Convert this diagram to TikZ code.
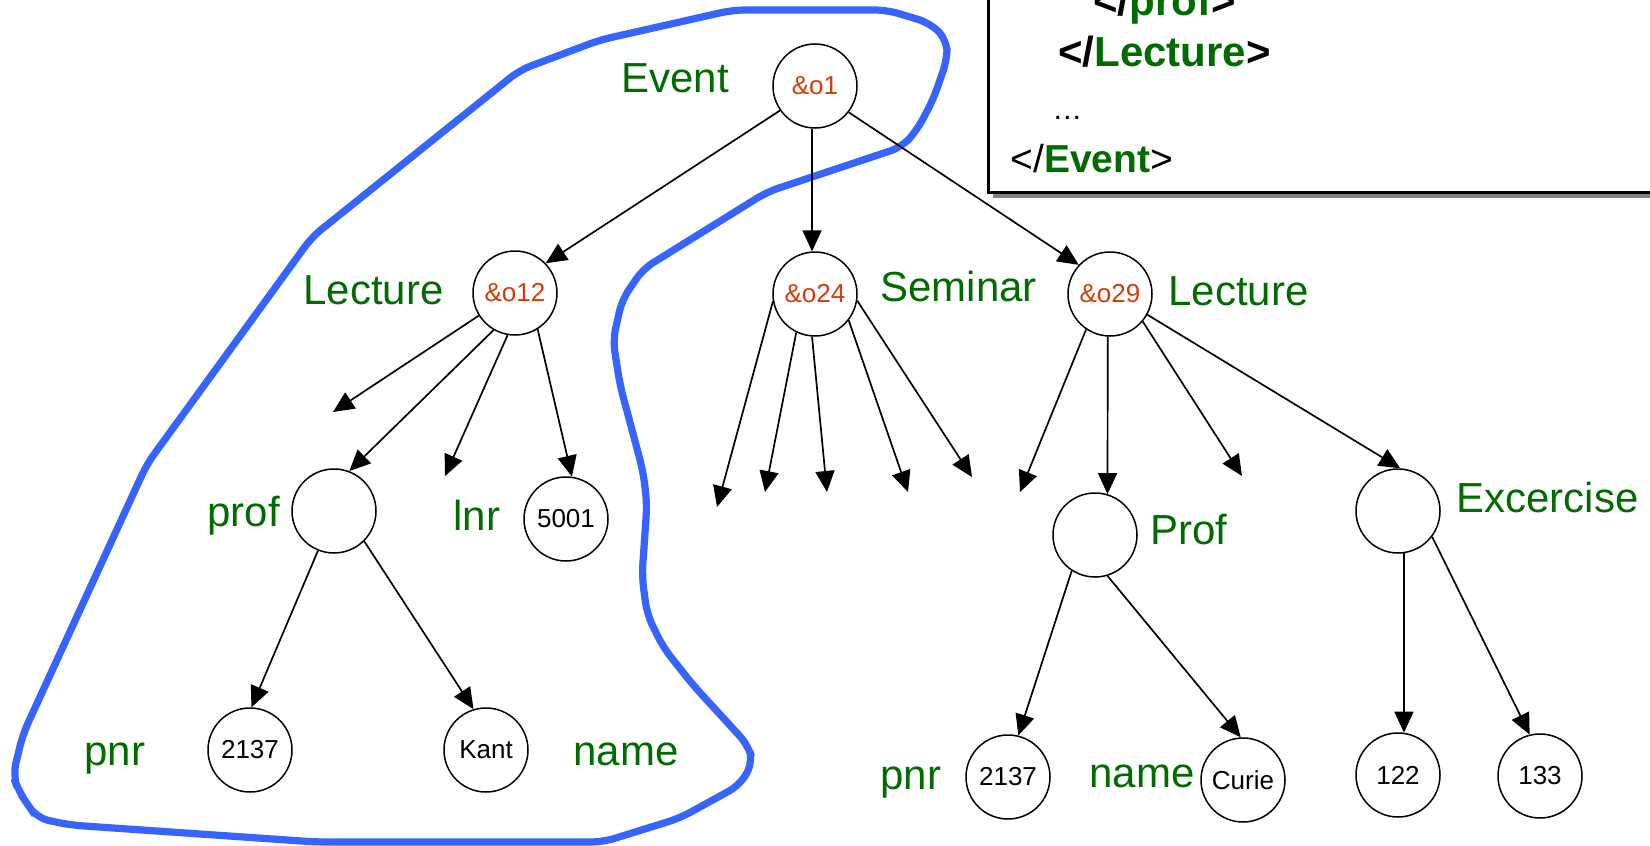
\documentclass[tikz,border=0pt]{standalone}
\usepackage{fontspec}
\setmainfont{Liberation Sans}
\usetikzlibrary{arrows.meta}
\definecolor{lblgreen}{RGB}{0,108,0}
\definecolor{idred}{RGB}{210,60,10}
\definecolor{hlblue}{RGB}{55,100,255}
\definecolor{shadowgray}{RGB}{130,130,130}
\begin{document}
\begin{tikzpicture}[x=0.5pt,y=-0.5pt,
  obj/.style={circle,draw,line width=0.75pt,minimum size=42pt,inner sep=0pt,font=\fontsize{13}{15}\selectfont},
  oid/.style={obj,text=idred},
  lbl/.style={anchor=base west,inner sep=0pt,text=lblgreen,font=\fontsize{21}{24}\selectfont},
  edge/.style={line width=0.85pt,-{Triangle[length=10.5pt,width=9.5pt]}},
  hull/.style={draw=hlblue,line width=3.6pt,rounded corners=6pt},
  xml/.style={anchor=base west,inner sep=0pt,font=\fontsize{21}{24}\selectfont\bfseries}
]
\useasboundingbox (0,0) rectangle (1650,846);
\clip (0,0) rectangle (1650,846);

% highlighted region
\draw[hull] (733,10) -- (887,10) -- (930,23) -- (947,40) -- (947,60) -- (933,100) -- (917,130) -- (902,147)
  -- (767,192) -- (643,269) -- (622,300) -- (613,340) -- (620,385) -- (643,471) -- (647,504)
  -- (642,576) -- (647,614) -- (663,647) -- (693,685) -- (748,745) -- (753,762) -- (740,785)
  -- (680,818) -- (603,842) -- (316,842) -- (70,825) -- (37,818) -- (28,805) -- (18,790) -- (13,775)
  -- (23,734) -- (147,464) -- (312,237) -- (520,70) -- (600,40) -- cycle;

% XML box
\fill[shadowgray] (993,-20) rectangle (1700,198);
\draw[line width=1.5pt,fill=white] (988,-20) rectangle (1700,192);
\node[xml] (x1) at (1093,15) {</\textcolor{lblgreen}{prof}>};
\node[xml] (x2) at (1058,66) {</\textcolor{lblgreen}{Lecture}>};
\node[anchor=base west,inner sep=0pt,font=\fontsize{15}{17}\selectfont] (x3) at (1052,119) {…};
\node[anchor=base west,inner sep=0pt,font=\fontsize{19.5}{22}\selectfont] (x4) at (1010,172) {</\textcolor{lblgreen}{\bfseries Event}>};

% nodes
\node[oid] (o1) at (815,86) {\&o1};
\node[oid] (o12) at (515,293) {\&o12};
\node[oid] (o24) at (815,294) {\&o24};
\node[oid] (o29) at (1110,294) {\&o29};
\node[obj] (profL) at (334,511) {};
\node[obj] (n5001) at (566,519) {5001};
\node[obj] (l2137) at (250,750) {2137};
\node[obj] (kant) at (486,750) {Kant};
\node[obj] (profR) at (1095,535) {};
\node[obj] (exc) at (1398,511) {};
\node[obj] (r2137) at (1008,777) {2137};
\node[obj] (curie) at (1243,780) {Curie};
\node[obj] (n122) at (1398,775) {122};
\node[obj] (n133) at (1540,776) {133};

% labels
\node[lbl] (tEvent) at (621,92) {Event};
\node[lbl] (tLecL) at (303,304) {Lecture};
\node[lbl] (tSem) at (880,301) {Seminar};
\node[lbl] (tLecR) at (1168,305) {Lecture};
\node[lbl] (tprof) at (207,526) {prof};
\node[lbl] (tlnr) at (453,530) {lnr};
\node[lbl] (tProf) at (1150,544) {Prof};
\node[lbl] (tExc) at (1456,512) {Excercise};
\node[lbl] (tpnrL) at (84,765) {pnr};
\node[lbl] (tnameL) at (573,765) {name};
\node[lbl] (tpnrR) at (880,789) {pnr};
\node[lbl] (tnameR) at (1089,787) {name};

% free arrow ends
\coordinate (a1) at (333,412);
\coordinate (a2) at (445,476);
\coordinate (b1) at (717,507);
\coordinate (b2) at (765,492);
\coordinate (b3) at (827,492);
\coordinate (b4) at (908,492);
\coordinate (b5) at (972,477);
\coordinate (c1) at (1020,492);
\coordinate (c2) at (1242,476);

% edges
\draw[edge] (o1.215) -- (o12.44);
\draw[edge] (o1.266) -- (o24.94);
\draw[edge] (o1.322) -- (o29.137);

\draw[edge] (o12.212) -- (a1);
\draw[edge] (o12.240) -- (profL.69);
\draw[edge] (o12.260) -- (a2);
\draw[edge] (o12.302) -- (n5001.82);

\draw[edge] (o24.190) -- (b1);
\draw[edge] (o24.244) -- (b2);
\draw[edge] (o24.266) -- (b3);
\draw[edge] (o24.322) -- (b4);
\draw[edge] (o24.351) -- (b5);

\draw[edge] (o29.236) -- (c1);
\draw[edge] (o29.267) -- (profR.73);
\draw[edge] (o29.320) -- (c2);
\draw[edge] (o29.331) -- (exc.87);

\draw[edge] (profL.248) -- (l2137.88);
\draw[edge] (profL.315) -- (kant.107);

\draw[edge] (profR.237) -- (r2137.76);
\draw[edge] (profR.287) -- (curie.93);

\draw[edge] (exc.278) -- (n122.82);
\draw[edge] (exc.323) -- (n133.104);
\end{tikzpicture}
\end{document}
